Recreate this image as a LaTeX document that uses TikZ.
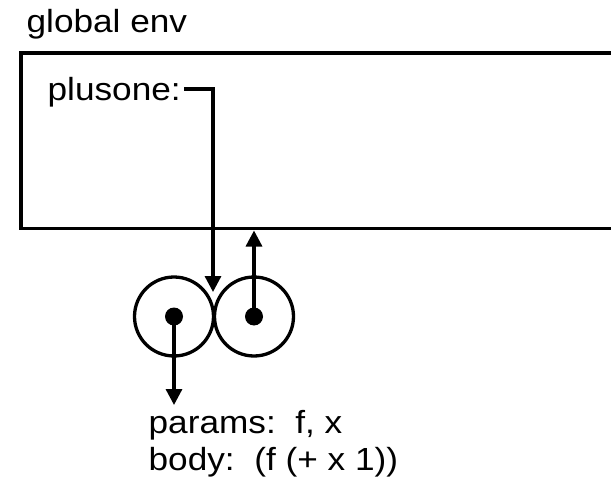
\documentclass[tikz,border=0pt]{standalone}
\usepackage{fontspec}
\setmainfont{Liberation Sans}
\usetikzlibrary{arrows.meta,positioning}
\newcommand{\wide}[1]{\scalebox{1.1}[1]{#1}}

\begin{document}
\begin{tikzpicture}[x=1pt,y=-1pt,line width=3.3pt,
  lbl/.style={anchor=base west,inner sep=0pt,font=\fontsize{32}{37}\selectfont},
  ptr/.style={-{Triangle[length=16pt,width=16pt]}},
  cell/.style={circle,draw,minimum size=79pt,inner sep=0pt},
  dot/.style={circle,fill,minimum size=18pt,inner sep=0pt}]
  \useasboundingbox (0,0) rectangle (611,487);
  \clip (0,0) rectangle (611,487);
  % global environment frame
  \draw (21,53) rectangle (650,228.5);
  \coordinate (envbot) at (0,230.5);
  \node[lbl] (genv) at (25,33) {\wide{global env}};
  \node[lbl] (plusone) at (46,101) {\wide{plusone:}};
  % procedure object
  \node[cell] (lcell) at (174,316.5) {};
  \node[cell] (rcell) at (254,316.5) {};
  \node[dot] (ldot) at (lcell.center) {};
  \node[dot] (rdot) at (rcell.center) {};
  \coordinate (fptr) at (213,292);
  \coordinate (lout) at (174,405);
  \draw[ptr] ([shift={(2,-12)}]plusone.base east) -| (fptr);
  \draw[ptr] (rdot.center) -- (rdot |- envbot);
  \draw[ptr] (ldot.center) -- (lout);
  \node[lbl] (params) at (147,433) {\wide{params:\ \ f, x}};
  \node[lbl] (body) at (147,470) {\wide{body:\ \ (f (+ x 1))}};
\end{tikzpicture}
\end{document}
